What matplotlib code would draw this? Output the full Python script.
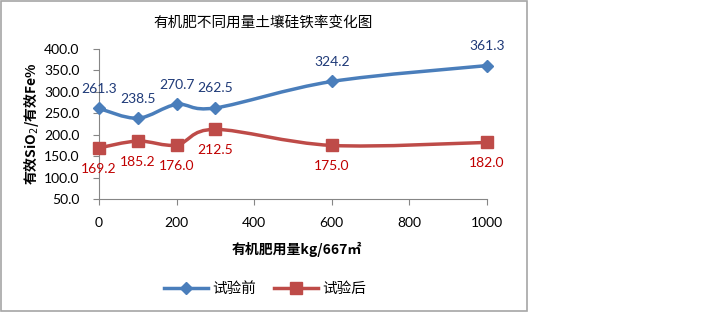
import numpy as np
import matplotlib.pyplot as plt
from matplotlib.path import Path
from matplotlib.patches import PathPatch, Rectangle
from matplotlib.lines import Line2D

plt.rcParams["font.family"] = ["Lato", "Noto Sans CJK SC", "DejaVu Sans"]

########## DATA ##########
title = "有机肥不同用量土壤硅铁率变化图"
dose = [0, 100, 200, 300, 600, 1000]
before = [261.3, 238.5, 270.7, 262.5, 324.2, 361.3]
after = [169.2, 185.2, 176.0, 212.5, 175.0, 182.0]
series_names = ["试验前", "试验后"]
##########################


def smooth_path(x, y):
    # Excel-style smoothed line: cubic bezier through every point
    pts = np.column_stack([x, y]).astype(float)
    n = len(pts)
    verts = [pts[0]]
    codes = [Path.MOVETO]
    for i in range(n - 1):
        p0 = pts[i - 1] if i > 0 else pts[i]
        p1 = pts[i]
        p2 = pts[i + 1]
        p3 = pts[i + 2] if i + 2 < n else pts[i + 1]
        c1 = p1 + (p2 - p0) / 6
        c2 = p2 - (p3 - p1) / 6
        verts += [c1, c2, p2]
        codes += [Path.CURVE4] * 3
    return Path(verts, codes)


blue = "#4A7EBB"
red = "#BE4B48"
blue_txt = "#1F3A78"
red_txt = "#C00000"
gray = "#868686"

fig = plt.figure(figsize=(7.2, 3.13), dpi=100)
fig.patches.append(Rectangle((0.001, 0.006), 0.731, 0.99, transform=fig.transFigure,
                             fill=False, edgecolor="#A6A6A6", lw=1.2))

ax = fig.add_axes([99 / 720, 1 - 199 / 313, (487 - 99) / 720, 150 / 313])
ax.set_xlim(0, 1000)
ax.set_ylim(50, 400)
ax.set_xticks(range(0, 1001, 200))
ax.set_yticks(range(50, 401, 50))
ax.set_yticklabels([f"{v:.1f}" for v in range(50, 401, 50)])

for side in ["top", "right"]:
    ax.spines[side].set_visible(False)
for side in ["left", "bottom"]:
    ax.spines[side].set_color(gray)
ax.tick_params(axis="both", colors=gray, labelcolor="black", labelsize=10, length=4)
ax.tick_params(axis="x", pad=9)
ax.tick_params(axis="y", pad=10)

for vals, col, mk, ms in [(before, blue, "D", 6.5), (after, red, "s", 8)]:
    ax.add_patch(PathPatch(smooth_path(dose, vals), fill=False, edgecolor=col, lw=2.5,
                           clip_on=False, zorder=3))
    ax.plot(dose, vals, ls="none", marker=mk, ms=ms, color=col, clip_on=False, zorder=4)

for x, v in zip(dose, before):
    ax.annotate(f"{v:.1f}", (x, v), xytext=(0, 14), textcoords="offset points",
                ha="center", va="center", color=blue_txt, fontsize=10)
for x, v in zip(dose, after):
    ax.annotate(f"{v:.1f}", (x, v), xytext=(0, -15), textcoords="offset points",
                ha="center", va="center", color=red_txt, fontsize=10)

fig.text(263 / 720, 1 - 23 / 313, title, ha="center", va="center", fontsize=10.5,
         family=["Noto Sans CJK SC"])
ax.set_xlabel("有机肥用量kg/667㎡", fontsize=10, fontweight="bold", va="center",
              family=["Noto Sans CJK SC", "DejaVu Sans"])
ax.xaxis.set_label_coords(0.51, -50 / 150)
ax.set_ylabel("有效SiO$_2$/有效Fe%", fontsize=10, fontweight="bold", labelpad=2,
              family=["Noto Sans CJK SC", "DejaVu Sans"])

handles = [Line2D([], [], color=blue, lw=2.5, marker="D", ms=6.5),
           Line2D([], [], color=red, lw=2.5, marker="s", ms=8)]
fig.legend(handles, series_names, loc="center", bbox_to_anchor=(265 / 720, 1 - 289 / 313),
           ncol=2, frameon=False, prop={"family": "Noto Sans CJK SC", "size": 10.5},
           handlelength=3, columnspacing=1.2, handletextpad=0.3)

plt.savefig("out.png", dpi=100)
